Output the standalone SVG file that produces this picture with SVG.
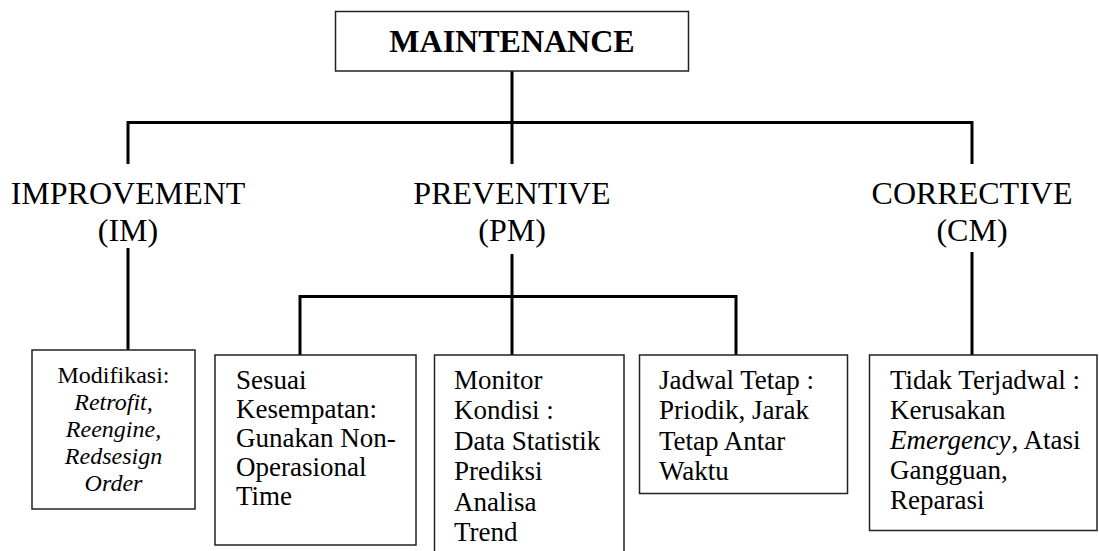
<svg xmlns="http://www.w3.org/2000/svg" width="1099" height="551" viewBox="0 0 1099 551">
<style>
.box{fill:#fff;stroke:#222;stroke-width:1.5}
.con{fill:none;stroke:#000;stroke-width:3}
text{font-family:"Liberation Serif","Times New Roman",serif;fill:#000}
.cat{font-size:32px;text-anchor:middle}
.bt{font-size:27px}
.mt{font-size:24px;text-anchor:middle}
.it{font-style:italic}
</style>
<rect width="1099" height="551" fill="#fff"/>
<g id="connectors">
<path class="con" d="M512 71V122.5M128 122.5H972M128 121V164M512 122.5V164M972 121V164"/>
<path class="con" d="M128 248V350M512 254V355M300 296.5H736M300 295V355M736 295V355M972 252V355"/>
</g>
<g id="maintenance">
<rect class="box" x="335.5" y="11.5" width="353" height="59.5"/>
<text class="cat" x="512" y="52" font-weight="bold">MAINTENANCE</text>
</g>
<g id="improvement">
<text class="cat" x="128" y="204">IMPROVEMENT</text>
<text class="cat" x="128" y="241">(IM)</text>
</g>
<g id="preventive">
<text class="cat" x="512" y="204">PREVENTIVE</text>
<text class="cat" x="512" y="241">(PM)</text>
</g>
<g id="corrective">
<text class="cat" x="972" y="204">CORRECTIVE</text>
<text class="cat" x="972" y="241">(CM)</text>
</g>
<g id="modifikasi">
<rect class="box" x="32" y="350" width="163" height="159"/>
<text class="mt" x="113.5" y="383">Modifikasi:</text>
<text class="mt it" x="113.5" y="410">Retrofit,</text>
<text class="mt it" x="113.5" y="437">Reengine,</text>
<text class="mt it" x="113.5" y="464">Redsesign</text>
<text class="mt it" x="113.5" y="491">Order</text>
</g>
<g id="sesuai">
<rect class="box" x="215" y="355" width="201" height="190"/>
<text class="bt" x="236" y="389">Sesuai</text>
<text class="bt" x="236" y="418">Kesempatan:</text>
<text class="bt" x="236" y="447">Gunakan Non-</text>
<text class="bt" x="236" y="476">Operasional</text>
<text class="bt" x="236" y="505">Time</text>
</g>
<g id="monitor">
<path class="box" d="M434.5 551V355H624V551"/>
<text class="bt" x="454" y="389">Monitor</text>
<text class="bt" x="454" y="419">Kondisi :</text>
<text class="bt" x="454" y="450">Data Statistik</text>
<text class="bt" x="454" y="480">Prediksi</text>
<text class="bt" x="454" y="511">Analisa</text>
<text class="bt" x="454" y="541">Trend</text>
</g>
<g id="jadwal">
<rect class="box" x="639.5" y="355" width="208" height="138.5"/>
<text class="bt" x="659" y="389">Jadwal Tetap :</text>
<text class="bt" x="659" y="419">Priodik, Jarak</text>
<text class="bt" x="659" y="450">Tetap Antar</text>
<text class="bt" x="659" y="480">Waktu</text>
</g>
<g id="tidak">
<rect class="box" x="869.5" y="355" width="227.5" height="175.5"/>
<text class="bt" x="890" y="389">Tidak Terjadwal :</text>
<text class="bt" x="890" y="419">Kerusakan</text>
<text class="bt it" x="890" y="449">Emergency</text>
<text class="bt" x="1011.5" y="449">, Atasi</text>
<text class="bt" x="890" y="479">Gangguan,</text>
<text class="bt" x="890" y="509">Reparasi</text>
</g>
</svg>
